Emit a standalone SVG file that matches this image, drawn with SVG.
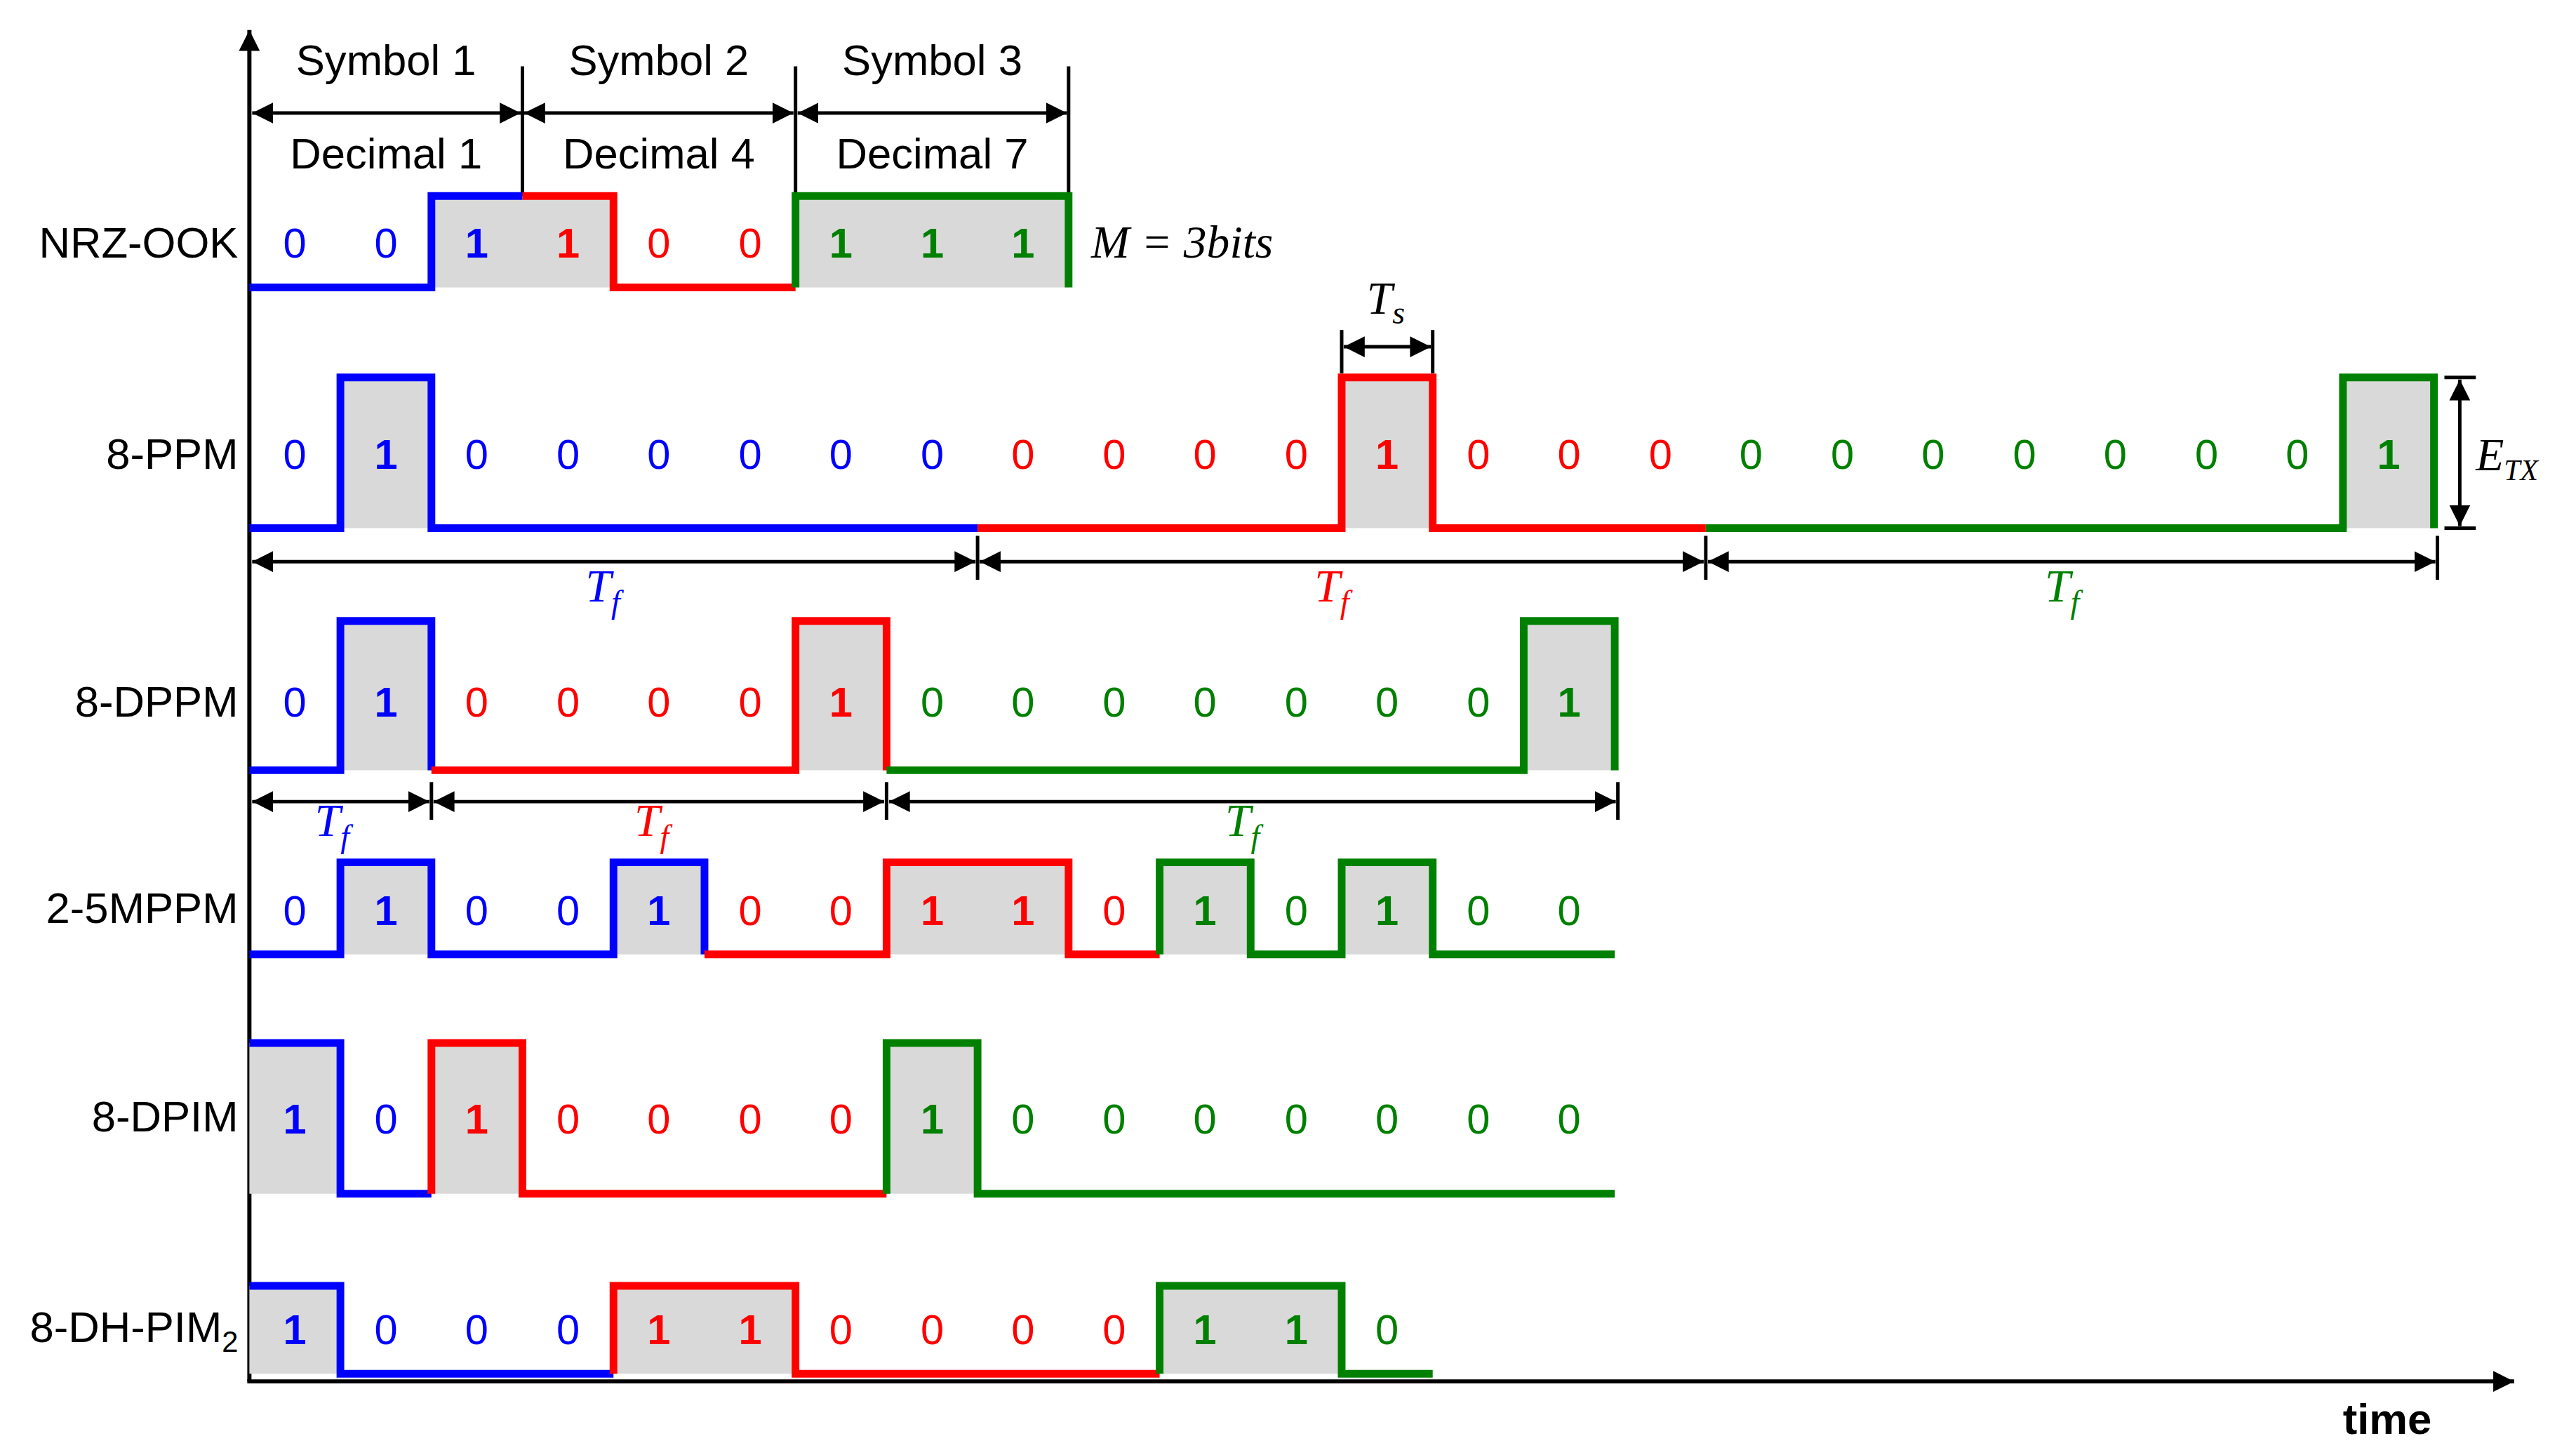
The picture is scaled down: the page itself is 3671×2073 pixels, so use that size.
<svg xmlns="http://www.w3.org/2000/svg" width="3671" height="2073" viewBox="0 0 3671 2073">
<style>
.b{stroke:#0000FF}.r{stroke:#FF0000}.g{stroke:#008000}
.w{fill:none;stroke-width:11;stroke-linejoin:miter;stroke-linecap:butt}
.gr{fill:#D9D9D9}
.lab{font-family:"Liberation Sans",Arial,sans-serif;font-size:62px;fill:#000}
.d{font-family:"Liberation Sans",Arial,sans-serif;font-size:60px;text-anchor:middle}
.d1{font-weight:bold}
.tb{fill:#0000FF}.tr{fill:#FF0000}.tg{fill:#008000}
.m{font-family:"Liberation Serif","Times New Roman",serif;font-style:italic;font-size:66px}
.dim{stroke:#000;stroke-width:5;fill:none}
</style>
<defs>
<marker id="ah" viewBox="0 0 10 10" refX="10" refY="5" markerWidth="6" markerHeight="6" orient="auto-start-reverse" markerUnits="strokeWidth"><path d="M0,0 L10,5 L0,10 z" fill="#000"/></marker>
<marker id="ax" viewBox="0 0 10 10" refX="10" refY="5" markerWidth="9" markerHeight="5" orient="auto" markerUnits="strokeWidth"><path d="M0,0 L10,5 L0,10 z" fill="#000"/></marker>
</defs>
<g transform="translate(4.5,3) scale(0.994)">
<g id="axes">
<line x1="353" y1="1977" x2="353" y2="40" stroke="#000" stroke-width="6" marker-end="url(#ax)"/>
<line x1="350" y1="1977" x2="3600" y2="1977" stroke="#000" stroke-width="6" marker-end="url(#ax)"/>
<text x="3418" y="2052" class="lab" font-weight="bold" text-anchor="middle">time</text>
</g>

<g id="header">
<text x="549" y="105" class="lab" text-anchor="middle">Symbol 1</text>
<text x="940" y="105" class="lab" text-anchor="middle">Symbol 2</text>
<text x="1332" y="105" class="lab" text-anchor="middle">Symbol 3</text>
<text x="549" y="238" class="lab" text-anchor="middle">Decimal 1</text>
<text x="940" y="238" class="lab" text-anchor="middle">Decimal 4</text>
<text x="1332" y="238" class="lab" text-anchor="middle">Decimal 7</text>
<text x="1560" y="366" class="m">M = 3bits</text>
</g>

<g id="connectors">
<line class="dim" x1="744.5" y1="92" x2="744.5" y2="278"/>
<line class="dim" x1="1136" y1="92" x2="1136" y2="278"/>
<line class="dim" x1="1527.5" y1="92" x2="1527.5" y2="278"/>
<line class="dim" x1="357" y1="159" x2="742" y2="159" marker-start="url(#ah)" marker-end="url(#ah)"/>
<line class="dim" x1="747" y1="159" x2="1133" y2="159" marker-start="url(#ah)" marker-end="url(#ah)"/>
<line class="dim" x1="1139" y1="159" x2="1525" y2="159" marker-start="url(#ah)" marker-end="url(#ah)"/>
<line class="dim" x1="1919" y1="470" x2="1919" y2="532"/>
<line class="dim" x1="2049.5" y1="470" x2="2049.5" y2="532"/>
<line class="dim" x1="1922" y1="494" x2="2047" y2="494" marker-start="url(#ah)" marker-end="url(#ah)"/>
<line class="dim" x1="3500" y1="538" x2="3545" y2="538"/>
<line class="dim" x1="3500" y1="754" x2="3545" y2="754"/>
<line class="dim" x1="3522" y1="541" x2="3522" y2="751" marker-start="url(#ah)" marker-end="url(#ah)"/>
<line class="dim" x1="1397" y1="765" x2="1397" y2="828"/>
<line class="dim" x1="2441" y1="765" x2="2441" y2="828"/>
<line class="dim" x1="3490" y1="765" x2="3490" y2="828"/>
<line class="dim" x1="357" y1="802" x2="1394" y2="802" marker-start="url(#ah)" marker-end="url(#ah)"/>
<line class="dim" x1="1400" y1="802" x2="2438" y2="802" marker-start="url(#ah)" marker-end="url(#ah)"/>
<line class="dim" x1="2444" y1="802" x2="3487" y2="802" marker-start="url(#ah)" marker-end="url(#ah)"/>
<line class="dim" x1="614" y1="1118" x2="614" y2="1172"/>
<line class="dim" x1="1266.5" y1="1118" x2="1266.5" y2="1172"/>
<line class="dim" x1="2315" y1="1118" x2="2315" y2="1172"/>
<line class="dim" x1="357" y1="1146" x2="611" y2="1146" marker-start="url(#ah)" marker-end="url(#ah)"/>
<line class="dim" x1="617" y1="1146" x2="1263" y2="1146" marker-start="url(#ah)" marker-end="url(#ah)"/>
<line class="dim" x1="1270" y1="1146" x2="2312" y2="1146" marker-start="url(#ah)" marker-end="url(#ah)"/>
</g>

<g id="dimlabels">
<text x="1955" y="447" class="m">T<tspan font-size="46" dy="14">s</tspan></text>
<text x="3545" y="671" class="m" font-size="60">E<tspan font-size="42" dy="14">TX</tspan></text>
<text x="835" y="859" class="m tb">T<tspan font-size="46" dy="16">f</tspan></text>
<text x="1880" y="859" class="m tr">T<tspan font-size="46" dy="16">f</tspan></text>
<text x="2927" y="859" class="m tg">T<tspan font-size="46" dy="16">f</tspan></text>
<text x="447" y="1195" class="m tb">T<tspan font-size="46" dy="16">f</tspan></text>
<text x="905" y="1195" class="m tr">T<tspan font-size="46" dy="16">f</tspan></text>
<text x="1752" y="1195" class="m tg">T<tspan font-size="46" dy="16">f</tspan></text>
</g>

<g id="row-nrz">
<text x="337" y="366" class="lab" text-anchor="end">NRZ-OOK</text>
<rect class="gr" x="614" y="278" width="261" height="131"/>
<rect class="gr" x="1136" y="278" width="391.5" height="131"/>
<path class="w b" d="M353 409 H614 V278 H744.5"/>
<path class="w r" d="M744.5 278 H875 V409 H1136"/>
<path class="w g" d="M1136 409 V278 H1527.5 V409"/>
<g class="d">
<text x="418" y="366" class="tb">0</text><text x="549" y="366" class="tb">0</text><text x="679" y="366" class="tb d1">1</text>
<text x="810" y="366" class="tr d1">1</text><text x="940" y="366" class="tr">0</text><text x="1071" y="366" class="tr">0</text>
<text x="1201" y="366" class="tg d1">1</text><text x="1332" y="366" class="tg d1">1</text><text x="1462" y="366" class="tg d1">1</text>
</g>
</g>

<g id="row-ppm">
<text x="337" y="669" class="lab" text-anchor="end">8-PPM</text>
<rect class="gr" x="483.5" y="538" width="130.5" height="216"/>
<rect class="gr" x="1919" y="538" width="130.5" height="216"/>
<rect class="gr" x="3354.5" y="538" width="130.5" height="216"/>
<path class="w b" d="M353 754 H483.5 V538 H614 V754 H1397"/>
<path class="w r" d="M1397 754 H1919 V538 H2049.5 V754 H2441"/>
<path class="w g" d="M2441 754 H3354.5 V538 H3485 V754"/>
<g class="d">
<text x="418" y="669" class="tb">0</text><text x="549" y="669" class="tb d1">1</text><text x="679" y="669" class="tb">0</text><text x="810" y="669" class="tb">0</text>
<text x="940" y="669" class="tb">0</text><text x="1071" y="669" class="tb">0</text><text x="1201" y="669" class="tb">0</text><text x="1332" y="669" class="tb">0</text>
<text x="1462" y="669" class="tr">0</text><text x="1593" y="669" class="tr">0</text><text x="1723" y="669" class="tr">0</text><text x="1854" y="669" class="tr">0</text>
<text x="1984" y="669" class="tr d1">1</text><text x="2115" y="669" class="tr">0</text><text x="2245" y="669" class="tr">0</text><text x="2376" y="669" class="tr">0</text>
<text x="2506" y="669" class="tg">0</text><text x="2637" y="669" class="tg">0</text><text x="2767" y="669" class="tg">0</text><text x="2898" y="669" class="tg">0</text>
<text x="3028" y="669" class="tg">0</text><text x="3159" y="669" class="tg">0</text><text x="3289" y="669" class="tg">0</text><text x="3420" y="669" class="tg d1">1</text>
</g>
</g>

<g id="row-dppm">
<text x="337" y="1024" class="lab" text-anchor="end">8-DPPM</text>
<rect class="gr" x="483.5" y="887" width="130.5" height="214"/>
<rect class="gr" x="1136" y="887" width="130.5" height="214"/>
<rect class="gr" x="2180" y="887" width="130.5" height="214"/>
<path class="w b" d="M353 1101 H483.5 V887 H614 V1101"/>
<path class="w r" d="M614 1101 H1136 V887 H1266.5 V1101"/>
<path class="w g" d="M1266.5 1101 H2180 V887 H2310.5 V1101"/>
<g class="d">
<text x="418" y="1024" class="tb">0</text><text x="549" y="1024" class="tb d1">1</text>
<text x="679" y="1024" class="tr">0</text><text x="810" y="1024" class="tr">0</text><text x="940" y="1024" class="tr">0</text><text x="1071" y="1024" class="tr">0</text><text x="1201" y="1024" class="tr d1">1</text>
<text x="1332" y="1024" class="tg">0</text><text x="1462" y="1024" class="tg">0</text><text x="1593" y="1024" class="tg">0</text><text x="1723" y="1024" class="tg">0</text>
<text x="1854" y="1024" class="tg">0</text><text x="1984" y="1024" class="tg">0</text><text x="2115" y="1024" class="tg">0</text><text x="2245" y="1024" class="tg d1">1</text>
</g>
</g>

<g id="row-mppm">
<text x="337" y="1320" class="lab" text-anchor="end">2-5MPPM</text>
<rect class="gr" x="483.5" y="1233" width="130.5" height="132"/>
<rect class="gr" x="875" y="1233" width="130.5" height="132"/>
<rect class="gr" x="1266.5" y="1233" width="261" height="132"/>
<rect class="gr" x="1658" y="1233" width="130.5" height="132"/>
<rect class="gr" x="1919" y="1233" width="130.5" height="132"/>
<path class="w b" d="M353 1365 H483.5 V1233 H614 V1365 H875 V1233 H1005.5 V1365"/>
<path class="w r" d="M1005.5 1365 H1266.5 V1233 H1527.5 V1365 H1658"/>
<path class="w g" d="M1658 1365 V1233 H1788.5 V1365 H1919 V1233 H2049.5 V1365 H2310.5"/>
<g class="d">
<text x="418" y="1323" class="tb">0</text><text x="549" y="1323" class="tb d1">1</text><text x="679" y="1323" class="tb">0</text><text x="810" y="1323" class="tb">0</text><text x="940" y="1323" class="tb d1">1</text>
<text x="1071" y="1323" class="tr">0</text><text x="1201" y="1323" class="tr">0</text><text x="1332" y="1323" class="tr d1">1</text><text x="1462" y="1323" class="tr d1">1</text><text x="1593" y="1323" class="tr">0</text>
<text x="1723" y="1323" class="tg d1">1</text><text x="1854" y="1323" class="tg">0</text><text x="1984" y="1323" class="tg d1">1</text><text x="2115" y="1323" class="tg">0</text><text x="2245" y="1323" class="tg">0</text>
</g>
</g>

<g id="row-dpim">
<text x="337" y="1619" class="lab" text-anchor="end">8-DPIM</text>
<rect class="gr" x="353" y="1492" width="130.5" height="216"/>
<rect class="gr" x="614" y="1492" width="130.5" height="216"/>
<rect class="gr" x="1266.5" y="1492" width="130.5" height="216"/>
<path class="w b" d="M353 1492 H483.5 V1708 H614"/>
<path class="w r" d="M614 1708 V1492 H744.5 V1708 H1266.5"/>
<path class="w g" d="M1266.5 1708 V1492 H1397 V1708 H2310.5"/>
<g class="d">
<text x="418" y="1622" class="tb d1">1</text><text x="549" y="1622" class="tb">0</text>
<text x="679" y="1622" class="tr d1">1</text><text x="810" y="1622" class="tr">0</text><text x="940" y="1622" class="tr">0</text><text x="1071" y="1622" class="tr">0</text><text x="1201" y="1622" class="tr">0</text>
<text x="1332" y="1622" class="tg d1">1</text><text x="1462" y="1622" class="tg">0</text><text x="1593" y="1622" class="tg">0</text><text x="1723" y="1622" class="tg">0</text>
<text x="1854" y="1622" class="tg">0</text><text x="1984" y="1622" class="tg">0</text><text x="2115" y="1622" class="tg">0</text><text x="2245" y="1622" class="tg">0</text>
</g>
</g>

<g id="row-dhpim">
<text x="337" y="1921" class="lab" text-anchor="end">8-DH-PIM<tspan font-size="42" dy="14">2</tspan></text>
<rect class="gr" x="353" y="1840" width="130.5" height="126"/>
<rect class="gr" x="875" y="1840" width="261" height="126"/>
<rect class="gr" x="1658" y="1840" width="261" height="126"/>
<path class="w b" d="M353 1840 H483.5 V1966 H875"/>
<path class="w r" d="M875 1966 V1840 H1136 V1966 H1658"/>
<path class="w g" d="M1658 1966 V1840 H1919 V1966 H2049.5"/>
<g class="d">
<text x="418" y="1924" class="tb d1">1</text><text x="549" y="1924" class="tb">0</text><text x="679" y="1924" class="tb">0</text><text x="810" y="1924" class="tb">0</text>
<text x="940" y="1924" class="tr d1">1</text><text x="1071" y="1924" class="tr d1">1</text><text x="1201" y="1924" class="tr">0</text><text x="1332" y="1924" class="tr">0</text><text x="1462" y="1924" class="tr">0</text><text x="1593" y="1924" class="tr">0</text>
<text x="1723" y="1924" class="tg d1">1</text><text x="1854" y="1924" class="tg d1">1</text><text x="1984" y="1924" class="tg">0</text>
</g>
</g>
</g>
</svg>
